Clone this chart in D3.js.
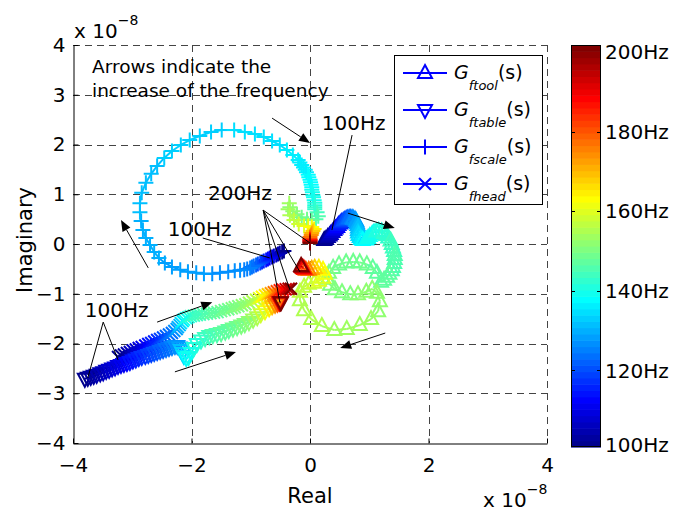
<!DOCTYPE html>
<html><head><meta charset="utf-8">
<script src="https://cdn.jsdelivr.net/npm/d3@7"></script>
<style>body{margin:0;background:#fff;} svg{display:block;font-family:"DejaVu Sans",sans-serif;}</style>
</head><body><svg id="c" width="678" height="515"></svg>
<script>
// ---- data: [frequency Hz, real (x1e-8), imaginary (x1e-8)] ----
const ftool = [
[100,0.24,0.08],[101.5,0.27,0.10],[103,0.30,0.14],[104.5,0.33,0.17],[106,0.35,0.20],[107.5,0.38,0.24],
[109,0.41,0.28],[110.5,0.43,0.31],[112,0.46,0.34],[113.5,0.48,0.38],[115,0.51,0.41],[116.5,0.53,0.44],
[118,0.56,0.46],[119,0.58,0.48],[120,0.61,0.50],[121,0.63,0.51],[122,0.66,0.52],[123,0.68,0.52],
[124,0.71,0.52],[125,0.73,0.51],[126,0.76,0.49],[127,0.78,0.46],[128,0.79,0.42],[129,0.80,0.38],
[130,0.81,0.33],[131,0.81,0.28],[132,0.81,0.23],[133,0.82,0.18],[134,0.84,0.14],[135,0.86,0.10],
[136,0.89,0.08],[137,0.95,0.09],[137.5,0.98,0.12],[138,1.01,0.16],[138.5,1.05,0.20],[139,1.08,0.23],
[139.5,1.12,0.25],[140,1.16,0.26],[140.5,1.21,0.25],[141,1.25,0.22],[141.5,1.29,0.18],[142,1.32,0.13],
[142.5,1.36,0.07],[143,1.38,0.00],[143.3,1.40,-0.07],[143.6,1.42,-0.14],[143.9,1.43,-0.22],[144.2,1.43,-0.30],
[144.5,1.42,-0.38],[144.8,1.40,-0.46],[145.1,1.38,-0.53],[145.4,1.34,-0.60],[145.7,1.30,-0.66],[146,1.25,-0.72],
[146.25,1.20,-0.76],
[146.5,1.13,-0.58],[146.75,1.06,-0.48],[147,0.96,-0.41],[147.25,0.84,-0.37],[147.5,0.73,-0.36],[147.75,0.61,-0.37],
[148,0.49,-0.41],[148.25,0.39,-0.48],[148.5,0.32,-0.58],[148.75,0.30,-0.70],[149,0.34,-0.82],[149.25,0.42,-0.91],
[149.5,0.54,-0.97],[149.75,0.68,-1.01],[150,0.81,-1.01],[150.25,0.95,-0.96],[150.5,1.05,-0.90],[150.75,1.13,-0.98],
[151,1.18,-1.15],[151.4,1.15,-1.35],[151.8,1.03,-1.51],[152.2,0.84,-1.63],[152.6,0.62,-1.71],[153,0.41,-1.73],
[153.4,0.20,-1.65],[153.8,0.02,-1.51],[154.2,-0.10,-1.33],[154.6,-0.17,-1.13],[155,-0.17,-0.96],[155.5,-0.10,-0.86],
[156,-0.02,-0.80],
[157,0.07,-0.78],[158,0.15,-0.74],[159,0.22,-0.68],[160,0.25,-0.60],[162,0.22,-0.52],[164,0.15,-0.48],
[167,0.08,-0.48],[170,0.03,-0.50],[174,-0.02,-0.52],[178,-0.07,-0.52],[183,-0.10,-0.50],[188,-0.12,-0.48],
[194,-0.14,-0.46],[200,-0.15,-0.44]
];
const ftable = [
[100,-3.80,-2.71],[100.8,-3.75,-2.69],[101.7,-3.70,-2.67],[102.5,-3.65,-2.65],[103.3,-3.60,-2.63],[104.2,-3.54,-2.60],
[105,-3.49,-2.58],[105.8,-3.44,-2.55],[106.7,-3.39,-2.53],[107.5,-3.34,-2.50],[108.3,-3.29,-2.48],[109.2,-3.24,-2.45],
[110,-3.19,-2.43],[110.8,-3.14,-2.41],[111.7,-3.09,-2.39],[112.5,-3.04,-2.37],[113.3,-2.99,-2.34],[114.2,-2.94,-2.32],
[115,-2.89,-2.29],[115.8,-2.84,-2.27],[116.7,-2.78,-2.25],[117.5,-2.73,-2.23],[118.3,-2.68,-2.21],[119.2,-2.63,-2.19],
[120,-2.58,-2.17],[120.8,-2.53,-2.15],[121.7,-2.48,-2.13],[122.5,-2.43,-2.11],[123.3,-2.38,-2.09],[124.2,-2.33,-2.07],
[125,-2.28,-2.05],[126.5,-2.24,-2.05],[128,-2.20,-2.08],[130,-2.18,-2.13],[132,-2.15,-2.19],[134,-2.13,-2.25],
[136,-2.09,-2.29],[137.5,-2.05,-2.27],[138.5,-2.01,-2.19],[139.5,-1.96,-2.09],[140.5,-1.91,-2.01],[141.5,-1.84,-1.94],
[142.5,-1.77,-1.89],[143.3,-1.70,-1.85],[144,-1.64,-1.83],[144.7,-1.57,-1.81],[145.4,-1.50,-1.79],[146.1,-1.43,-1.76],
[146.8,-1.37,-1.73],[147.5,-1.30,-1.70],[148.2,-1.23,-1.67],[149,-1.16,-1.64],[149.8,-1.10,-1.61],[150.7,-1.03,-1.57],
[152,-0.96,-1.52],[154,-0.89,-1.47],[157,-0.83,-1.41],[160,-0.76,-1.35],[164,-0.69,-1.29],[168,-0.64,-1.25],
[173,-0.59,-1.22],[178,-0.55,-1.20],[184,-0.52,-1.18],[190,-0.51,-1.17],[196,-0.50,-1.17],[200,-0.49,-1.17]
];
const fscale = [
[100,-0.44,-0.14],[101.5,-0.47,-0.16],[103,-0.51,-0.18],[104.5,-0.54,-0.20],[106,-0.57,-0.22],[107.5,-0.61,-0.24],
[109,-0.64,-0.26],[110.5,-0.68,-0.28],[112,-0.71,-0.30],[113.5,-0.74,-0.32],[115,-0.78,-0.34],[116.5,-0.81,-0.36],
[118,-0.84,-0.38],[119.5,-0.88,-0.40],[121,-0.91,-0.42],[122,-0.95,-0.44],[123,-0.98,-0.46],[123.8,-1.01,-0.48],
[124.4,-1.06,-0.50],[124.9,-1.11,-0.52],[125.2,-1.18,-0.53],[125.5,-1.27,-0.54],
[126,-1.38,-0.56],[126.25,-1.52,-0.58],[126.5,-1.65,-0.60],[126.75,-1.79,-0.60],[127,-1.92,-0.58],[127.25,-2.06,-0.56],
[127.5,-2.19,-0.52],[127.75,-2.33,-0.46],[128,-2.45,-0.38],[128.25,-2.55,-0.28],[128.5,-2.63,-0.16],[128.75,-2.70,-0.02],
[129,-2.77,0.12],[129.25,-2.82,0.28],[129.5,-2.85,0.46],[129.75,-2.87,0.64],[130,-2.87,0.82],[130.25,-2.84,1.03],
[130.5,-2.77,1.23],[130.75,-2.68,1.41],[131,-2.58,1.57],[131.25,-2.46,1.73],[131.5,-2.33,1.87],[131.75,-2.18,1.99],
[132,-2.03,2.09],[132.25,-1.86,2.17],[132.5,-1.67,2.25],[132.75,-1.49,2.29],[133,-1.28,2.29],[133.25,-1.10,2.25],
[133.5,-0.93,2.21],[133.75,-0.78,2.15],[134,-0.64,2.07],[134.25,-0.51,1.99],[134.5,-0.39,1.89],[134.75,-0.29,1.79],
[135,-0.20,1.69],[135.15,-0.17,1.64],[135.3,-0.14,1.59],[135.45,-0.11,1.54],[135.6,-0.08,1.49],[135.8,-0.06,1.44],
[136,-0.03,1.39],[136.25,-0.02,1.34],[136.5,0.00,1.29],[136.75,0.01,1.24],[137,0.02,1.19],[137.25,0.03,1.14],
[137.5,0.03,1.09],[137.75,0.04,1.04],[138,0.05,0.98],[138.5,0.06,0.94],[139,0.07,0.88],[139.5,0.08,0.83],
[140,0.08,0.78],[141,0.08,0.74],[142,0.08,0.70],
[143,0.12,0.64],[144,0.14,0.56],[145,0.10,0.50],[146,0.03,0.48],[147,-0.05,0.50],[148,-0.14,0.54],
[149,-0.22,0.60],[150,-0.29,0.66],[151,-0.34,0.74],[152,-0.35,0.82],[153,-0.37,0.70],[154,-0.34,0.58],
[155,-0.27,0.48],[156.5,-0.19,0.40],[158,-0.10,0.36],[160,-0.03,0.36],[162,0.03,0.34],[164,0.07,0.30],
[166,0.05,0.26],[169,0.03,0.22],[172,0.02,0.18],[176,0.00,0.14],[180,0.00,0.10],[185,0.00,0.08],
[190,0.00,0.06],[195,0.00,0.04],[200,0.00,0.02]
];
const fhead = [
[100,-3.24,-2.27],[101.3,-3.19,-2.24],[102.6,-3.14,-2.22],[103.9,-3.09,-2.19],[105.2,-3.04,-2.17],[106.5,-2.99,-2.14],
[107.8,-2.94,-2.12],[109.1,-2.89,-2.09],[110.4,-2.84,-2.07],[111.7,-2.78,-2.04],[113,-2.73,-2.01],[114.3,-2.68,-1.99],
[115.6,-2.63,-1.96],[116.9,-2.58,-1.93],[118.2,-2.53,-1.91],[119.5,-2.48,-1.88],[120.8,-2.43,-1.85],[122.1,-2.38,-1.82],
[123.4,-2.33,-1.79],[125,-2.29,-1.75],[127,-2.25,-1.71],[129,-2.23,-1.67],[131,-2.20,-1.63],[133,-2.18,-1.59],
[135,-2.15,-1.55],[137.5,-2.13,-1.52],[139,-2.09,-1.49],[140.5,-2.05,-1.47],[141.5,-2.01,-1.45],[142.3,-1.96,-1.44],
[143,-1.91,-1.43],[143.6,-1.86,-1.42],[144.2,-1.80,-1.41],[144.8,-1.74,-1.40],[145.4,-1.68,-1.39],[146,-1.62,-1.38],
[146.5,-1.56,-1.37],[147,-1.50,-1.35],[147.5,-1.44,-1.33],[148,-1.38,-1.31],[148.5,-1.32,-1.29],[149,-1.27,-1.27],
[149.6,-1.21,-1.25],[150.2,-1.15,-1.23],[151,-1.09,-1.21],[152,-1.03,-1.18],[153.5,-0.97,-1.15],[155.5,-0.91,-1.12],
[158,-0.86,-1.09],[161,-0.81,-1.06],[164,-0.76,-1.03],[167,-0.71,-1.01],[171,-0.66,-0.99],[175,-0.61,-0.97],
[179,-0.56,-0.95],[183,-0.51,-0.93],[187,-0.46,-0.92],[191,-0.41,-0.91],[195,-0.36,-0.90],[200,-0.32,-0.90]
];
const seriesNames = ["ftool", "ftable", "fscale", "fhead"];
const xTicks = [-4, -2, 0, 2, 4];
const yTicks = [-4, -3, -2, -1, 0, 1, 2, 3, 4];
const cbarTicks = [100, 120, 140, 160, 180, 200];
// annotations in data units
const arrows = [[-0.64,2.53,0.00,2.03],[-2.73,-0.48,-3.19,0.48],[0.64,0.62,1.43,0.32],
                [1.27,-1.79,0.51,-2.09],[-2.58,-1.57,-1.65,-1.17],[-2.28,-2.57,-1.25,-2.17]];
const pointerLines = [[0.71,2.19,0.37,0.28],[-0.79,0.68,0.00,0.02],[-0.79,0.68,-0.17,-0.56],
                      [-0.79,0.68,-0.34,-0.92],[-0.79,0.68,-0.51,-1.17],[-1.81,0.12,-0.68,-0.28],
                      [-3.49,-1.57,-3.75,-2.69],[-3.49,-1.57,-3.24,-2.33]];
const labels = [["100Hz",0.20,2.29],["200Hz",-1.72,0.88],["100Hz",-2.40,0.16],["100Hz",-3.80,-1.47]];
const noteLines = ["Arrows indicate the", "increase of the frequency"];

// ---- jet(64) colormap (MATLAB algorithm) ----
function jet(m){
  const n = Math.ceil(m/4), u = [];
  for (let i=1;i<=n;i++) u.push(i/n);
  for (let i=0;i<n-1;i++) u.push(1);
  for (let i=n;i>=1;i--) u.push(i/n);
  const g0 = Math.ceil(n/2) - (m%4===1?1:0);
  const J = d3.range(m).map(()=>[0,0,0]);
  u.forEach((v,k)=>{ const g=g0+k+1, r=g+n, b=g-n;
    if(g>=1&&g<=m) J[g-1][1]=v; if(r>=1&&r<=m) J[r-1][0]=v; if(b>=1&&b<=m) J[b-1][2]=v; });
  return J.map(c=>d3.rgb(c[0]*255,c[1]*255,c[2]*255).formatHex());
}
const cmap = jet(64);
const fcolor = f => cmap[Math.max(0, Math.min(63, Math.floor((f-100)/100*64)))];

const svg = d3.select("#c");
const L=73, R=547, T=45, B=443;
const x = d3.scaleLinear([-4,4],[L,R]);
const y = d3.scaleLinear([-4,4],[B,T]);

// grid
const grid = svg.append("g").attr("stroke","#444").attr("stroke-width",1).attr("stroke-dasharray","7,5");
grid.selectAll(".gx").data(xTicks.filter(d=>d>-4)).join("line")
  .attr("x1",d=>Math.round(x(d))+0.5).attr("x2",d=>Math.round(x(d))+0.5).attr("y1",T).attr("y2",B);
grid.selectAll(".gy").data(yTicks.filter(d=>d>-4)).join("line")
  .attr("y1",d=>Math.round(y(d))+0.5).attr("y2",d=>Math.round(y(d))+0.5).attr("x1",L).attr("x2",R);

// axes
const fmt = d3.format("d");
const ax = svg.append("g").attr("transform",`translate(${L+0.5},0)`)
  .call(d3.axisLeft(y).tickValues(yTicks).tickSize(-5).tickSizeOuter(0).tickPadding(8).tickFormat(fmt));
const bx = svg.append("g").attr("transform",`translate(0,${B+0.5})`)
  .call(d3.axisBottom(x).tickValues(xTicks).tickSize(-5).tickSizeOuter(0).tickPadding(14).tickFormat(fmt));
[ax,bx].forEach(g=>{ g.selectAll("text").attr("font-size",20).attr("font-family","DejaVu Sans").attr("fill","#000");
  g.select(".domain").attr("stroke","#000"); g.selectAll(".tick line").attr("stroke","#000"); });

// axis labels
svg.append("text").attr("x",310).attr("y",503).attr("text-anchor","middle").attr("font-size",21).text("Real");
svg.append("text").attr("transform","translate(32,240) rotate(-90)").attr("text-anchor","middle").attr("font-size",21).text("Imaginary");
function expo(xp, yb){
  const t = svg.append("text").attr("x",xp).attr("y",yb).attr("font-size",20);
  t.append("tspan").text("x 10");
  t.append("tspan").attr("dy",-13).attr("font-size",14).text("\u22128");
}
expo(74,38); expo(483,507);

// ---- curves, drawn in order of frequency ----
const shapes = {
  ftool:"M0,-8L7,5L-7,5Z",
  ftable:"M0,8L7,-5L-7,-5Z",
  fscale:"M-7.5,0H7.5M0,-7.5V7.5",
  fhead:"M-6,-6L6,6M-6,6L6,-6"
};
const allSeries = {ftool, ftable, fscale, fhead};
const items = [];
seriesNames.forEach(name=>{
  const arr = allSeries[name];
  arr.forEach((p,i)=>{
    if(i<arr.length-1) items.push({kind:0,f:p[0],a:p,b:arr[i+1],name});
    items.push({kind:1,f:p[0],a:p,name});
  });
});
items.sort((p,q)=>p.f-q.f || p.kind-q.kind);
const cg = svg.append("g").attr("fill","none");
cg.selectAll("path").data(items).join("path")
  .attr("d",d=> d.kind===0 ? `M${x(d.a[1])},${y(d.a[2])}L${x(d.b[1])},${y(d.b[2])}` : shapes[d.name])
  .attr("transform",d=> d.kind===1 ? `translate(${x(d.a[1])},${y(d.a[2])})` : null)
  .attr("stroke",d=>fcolor(d.f)).attr("stroke-width",2)
  .attr("stroke-linejoin","miter");

// ---- annotations ----
const ag = svg.append("g").attr("stroke","#000").attr("stroke-width",1);
pointerLines.forEach(l=>ag.append("line").attr("x1",x(l[0])).attr("y1",y(l[1])).attr("x2",x(l[2])).attr("y2",y(l[3])));
arrows.forEach(a=>{
  const x1=x(a[0]),y1=y(a[1]),x2=x(a[2]),y2=y(a[3]);
  const ang=Math.atan2(y2-y1,x2-x1), hl=11, hw=4.5;
  const bx_=x2-hl*Math.cos(ang), by_=y2-hl*Math.sin(ang);
  ag.append("line").attr("x1",x1).attr("y1",y1).attr("x2",bx_).attr("y2",by_);
  ag.append("path").attr("fill","#000").attr("stroke","none")
    .attr("d",`M${x2},${y2}L${bx_-hw*Math.sin(ang)},${by_+hw*Math.cos(ang)}L${bx_+hw*Math.sin(ang)},${by_-hw*Math.cos(ang)}Z`);
});
labels.forEach(l=>svg.append("text").attr("x",x(l[1])).attr("y",y(l[2])).attr("font-size",20).text(l[0]));
noteLines.forEach((t,i)=>svg.append("text").attr("x",92).attr("y",73+i*24).attr("font-size",18.5).text(t));

// ---- legend ----
const lg = svg.append("g");
lg.append("rect").attr("x",394.5).attr("y",55.5).attr("width",148).attr("height",149).attr("fill","#fff").attr("stroke","#000");
seriesNames.forEach((name,i)=>{
  const ey = 73 + i*37;
  lg.append("line").attr("x1",403).attr("x2",447).attr("y1",ey).attr("y2",ey).attr("stroke","#0000ff").attr("stroke-width",2);
  lg.append("path").attr("d",shapes[name]).attr("transform",`translate(425,${ey})`).attr("fill","none").attr("stroke","#0000ff").attr("stroke-width",2);
  const t = lg.append("text").attr("x",454).attr("y",ey+6).attr("font-size",19).attr("font-style","italic");
  t.append("tspan").text("G");
  t.append("tspan").attr("dy",11).attr("font-size",13).text(name);
  t.append("tspan").attr("dy",-11).attr("font-style","normal").attr("font-size",19).text("(s)");
});

// ---- colorbar ----
const cx0=571, cx1=601, cy0=45, cy1=447;
const cb = svg.append("g");
const bh = (cy1-cy0)/64;
cb.selectAll("rect").data(cmap).join("rect")
  .attr("x",cx0).attr("width",cx1-cx0).attr("y",(d,i)=>cy1-(i+1)*bh).attr("height",bh+0.6).attr("fill",d=>d);
cb.append("rect").attr("x",cx0+0.5).attr("y",cy0+0.5).attr("width",cx1-cx0-1).attr("height",cy1-cy0-1).attr("fill","none").attr("stroke","#000");
const cy = d3.scaleLinear([100,200],[450,52]);
cbarTicks.forEach(t=>{
  const yy = Math.round(cy(t))+0.5;
  if(t>100&&t<200){
    cb.append("line").attr("x1",cx0).attr("x2",cx0+4).attr("y1",yy).attr("y2",yy).attr("stroke","#000");
    cb.append("line").attr("x1",cx1-4).attr("x2",cx1).attr("y1",yy).attr("y2",yy).attr("stroke","#000");
  }
  cb.append("text").attr("x",605).attr("y",Math.min(cy(t),445)).attr("dy","0.36em").attr("font-size",20).text(t+"Hz");
});
</script></body></html>
